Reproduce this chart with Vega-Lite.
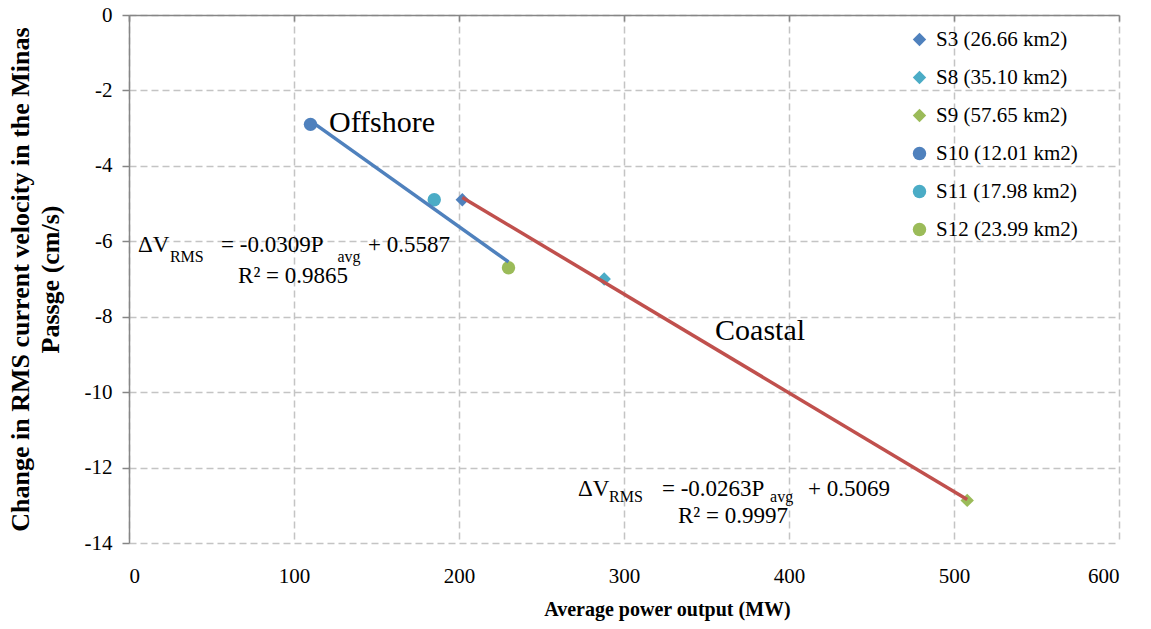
{
  "$schema": "https://vega.github.io/schema/vega-lite/v6.json",
  "autosize": "none",
  "width": 990,
  "height": 528,
  "padding": {"left": 129, "top": 15, "right": 32, "bottom": 86},
  "background": "white",
  "config": {
    "view": {"stroke": null},
    "font": "Liberation Serif",
    "text": {"font": "Liberation Serif", "color": "black"}
  },
  "datasets": {
    "pts": [
      {"series": "S3 (26.66 km2)", "site": "Coastal", "P": 202, "dV": -4.9},
      {"series": "S8 (35.10 km2)", "site": "Coastal", "P": 288, "dV": -7.0},
      {"series": "S9 (57.65 km2)", "site": "Coastal", "P": 508, "dV": -12.87},
      {"series": "S10 (12.01 km2)", "site": "Offshore", "P": 110, "dV": -2.9},
      {"series": "S11 (17.98 km2)", "site": "Offshore", "P": 185, "dV": -4.9},
      {"series": "S12 (23.99 km2)", "site": "Offshore", "P": 230, "dV": -6.7}
    ],
    "labels": [
      {"text": "Offshore", "P": 121.2, "dV": -3.10},
      {"text": "Coastal", "P": 355.2, "dV": -8.62}
    ],
    "eqmain": [
      {"text": "ΔV", "P": 5.45, "dV": -6.284},
      {"text": "= -0.0309P", "P": 55.8, "dV": -6.284},
      {"text": "+ 0.5587", "P": 144.8, "dV": -6.284},
      {"text": "R² = 0.9865", "P": 66.1, "dV": -7.106},
      {"text": "ΔV", "P": 272.1, "dV": -12.754},
      {"text": "= -0.0263P", "P": 323.0, "dV": -12.754},
      {"text": "+ 0.5069", "P": 411.5, "dV": -12.754},
      {"text": "R² = 0.9997", "P": 332.7, "dV": -13.47}
    ],
    "eqsub": [
      {"text": "RMS", "P": 24.8, "dV": -6.55},
      {"text": "avg", "P": 126.3, "dV": -6.55},
      {"text": "RMS", "P": 290.9, "dV": -12.92},
      {"text": "avg", "P": 388.5, "dV": -12.92}
    ]
  },
  "resolve": {"axis": {"x": "independent"}},
  "layer": [
    {
      "data": {"name": "pts"},
      "mark": {"type": "point", "filled": true, "opacity": 1, "strokeWidth": 0},
      "encoding": {
        "x": {
          "field": "P", "type": "quantitative",
          "scale": {"domain": [0, 600], "nice": false},
          "axis": {
            "orient": "bottom", "values": [0, 100, 200, 300, 400, 500, 600],
            "domain": false, "ticks": false, "tickSize": 0,
            "grid": true, "gridColor": "#C4C4C4", "gridDash": [7, 4], "gridWidth": 1.5,
            "labelFont": "Liberation Serif", "labelFontSize": 21, "labelColor": "#000000",
            "labelPadding": 22,
            "title": "Average power output (MW)",
            "titleFont": "Liberation Serif", "titleFontSize": 20, "titleFontWeight": "bold", "titleColor": "#000000",
            "titleX": 538, "titleY": 72, "titleBaseline": "alphabetic", "titleAnchor": "middle"
          }
        },
        "y": {
          "field": "dV", "type": "quantitative",
          "scale": {"domain": [-14, 0], "nice": false},
          "axis": {
            "values": [-14, -12, -10, -8, -6, -4, -2, 0],
            "labelExpr": "replace(datum.label, '−', '-')",
            "domain": true, "domainColor": "#868686", "domainWidth": 1.5,
            "ticks": true, "tickColor": "#868686", "tickSize": 7, "tickWidth": 1.5,
            "grid": true, "gridColor": "#C4C4C4", "gridDash": [7, 4], "gridWidth": 1.5,
            "labelFont": "Liberation Serif", "labelFontSize": 21, "labelColor": "#000000",
            "labelPadding": 10,
            "title": ["Change in RMS current velocity in the Minas", "Passge (cm/s)"],
            "titleFont": "Liberation Serif", "titleFontSize": 26, "titleFontWeight": "bold", "titleColor": "#000000",
            "titleLineHeight": 30, "titleX": -96, "titleY": 264, "titleAngle": -90, "titleBaseline": "bottom", "titleAnchor": "middle"
          }
        },
        "color": {
          "field": "series", "type": "nominal",
          "scale": {
            "domain": ["S3 (26.66 km2)", "S8 (35.10 km2)", "S9 (57.65 km2)", "S10 (12.01 km2)", "S11 (17.98 km2)", "S12 (23.99 km2)"],
            "range": ["#4F81BD", "#4BACC6", "#9BBB59", "#4F81BD", "#4BACC6", "#9BBB59"]
          },
          "legend": {
            "title": null, "orient": "none", "legendX": 780, "legendY": 14,
            "labelFont": "Liberation Serif", "labelFontSize": 21, "labelColor": "#000000",
            "labelLimit": 300,
            "rowPadding": 16, "labelOffset": 6, "symbolStrokeWidth": 0
          }
        },
        "shape": {
          "field": "series", "type": "nominal",
          "scale": {
            "domain": ["S3 (26.66 km2)", "S8 (35.10 km2)", "S9 (57.65 km2)", "S10 (12.01 km2)", "S11 (17.98 km2)", "S12 (23.99 km2)"],
            "range": ["diamond", "diamond", "diamond", "circle", "circle", "circle"]
          }
        },
        "size": {
          "field": "series", "type": "nominal",
          "scale": {
            "domain": ["S3 (26.66 km2)", "S8 (35.10 km2)", "S9 (57.65 km2)", "S10 (12.01 km2)", "S11 (17.98 km2)", "S12 (23.99 km2)"],
            "range": [180, 180, 180, 250, 250, 250]
          }
        }
      }
    },
    {
      "data": {"name": "pts"},
      "transform": [
        {"filter": "datum.site === 'Offshore'"},
        {"regression": "dV", "on": "P"}
      ],
      "mark": {"type": "line", "color": "#4F81BD", "strokeWidth": 3.5},
      "encoding": {
        "x": {
          "field": "P", "type": "quantitative",
          "axis": {
            "orient": "top", "values": [0, 100, 200, 300, 400, 500, 600],
            "labels": false, "grid": false, "title": null,
            "domain": true, "domainColor": "#868686", "domainWidth": 1.5,
            "ticks": true, "tickColor": "#868686", "tickSize": -6, "tickWidth": 1.5
          }
        },
        "y": {"field": "dV", "type": "quantitative"}
      }
    },
    {
      "data": {"name": "pts"},
      "transform": [
        {"filter": "datum.site === 'Coastal'"},
        {"regression": "dV", "on": "P"}
      ],
      "mark": {"type": "line", "color": "#C0504D", "strokeWidth": 3.5},
      "encoding": {
        "x": {"field": "P", "type": "quantitative", "axis": null},
        "y": {"field": "dV", "type": "quantitative"}
      }
    },
    {
      "data": {"name": "labels"},
      "mark": {"type": "text", "align": "left", "baseline": "alphabetic", "fontSize": 30, "font": "Liberation Serif", "color": "#000000"},
      "encoding": {
        "x": {"field": "P", "type": "quantitative", "axis": null},
        "y": {"field": "dV", "type": "quantitative"},
        "text": {"field": "text"}
      }
    },
    {
      "data": {"name": "eqmain"},
      "mark": {"type": "text", "align": "left", "baseline": "alphabetic", "fontSize": 23, "font": "Liberation Serif", "color": "#000000"},
      "encoding": {
        "x": {"field": "P", "type": "quantitative", "axis": null},
        "y": {"field": "dV", "type": "quantitative"},
        "text": {"field": "text"}
      }
    },
    {
      "data": {"name": "eqsub"},
      "mark": {"type": "text", "align": "left", "baseline": "alphabetic", "fontSize": 16, "font": "Liberation Serif", "color": "#000000"},
      "encoding": {
        "x": {"field": "P", "type": "quantitative", "axis": null},
        "y": {"field": "dV", "type": "quantitative"},
        "text": {"field": "text"}
      }
    }
  ]
}
